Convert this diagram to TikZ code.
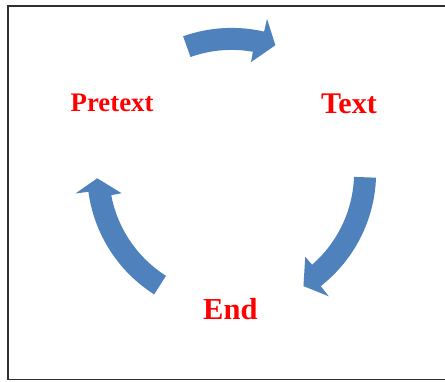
\documentclass[tikz,border=0pt]{standalone}
\usepackage{fontspec}
\setmainfont{Liberation Serif}
\definecolor{arrowblue}{HTML}{4F81BD}
\definecolor{framegray}{HTML}{303030}
\newcommand{\cyclearrow}[3]{%
  \fill[arrowblue] (#1:144.5) arc[start angle=#1, end angle=#2-1.5, radius=144.5]
    -- (#2-1.5:157.5) -- (#3:134.5) -- (#2+1.5:112) -- (#2+1.5:122.5)
    arc[start angle=#2+1.5, end angle=#1, radius=122.5] -- cycle;}
\begin{document}
\begin{tikzpicture}[x=1pt,y=1pt,
  lbl/.style={inner sep=0pt, anchor=base west, text=red, font=\bfseries}]
\useasboundingbox (0,0) rectangle (445,381);
\fill[white] (0,0) rectangle (445,381);
\draw[framegray, line width=1.2pt] (446,375) -- (8,375) -- (8,1.5) -- (446,1.5);
\begin{scope}[shift={(231.6,208.6)}]
  \cyclearrow{109.6}{78.5}{71}
  \cyclearrow{-2.1}{-50.4}{-57.7}
  \cyclearrow{237.6}{189.2}{182.5}
\end{scope}
\node[lbl, font=\bfseries\fontsize{26.8}{30}\selectfont] (p) at (70.5,269.5) {Pretext};
\node[lbl, font=\bfseries\fontsize{30}{34}\selectfont] (t) at (321,267) {Text};
\node[lbl, font=\bfseries\fontsize{30.5}{34}\selectfont] (e) at (203,61.7) {End};
\end{tikzpicture}
\end{document}
